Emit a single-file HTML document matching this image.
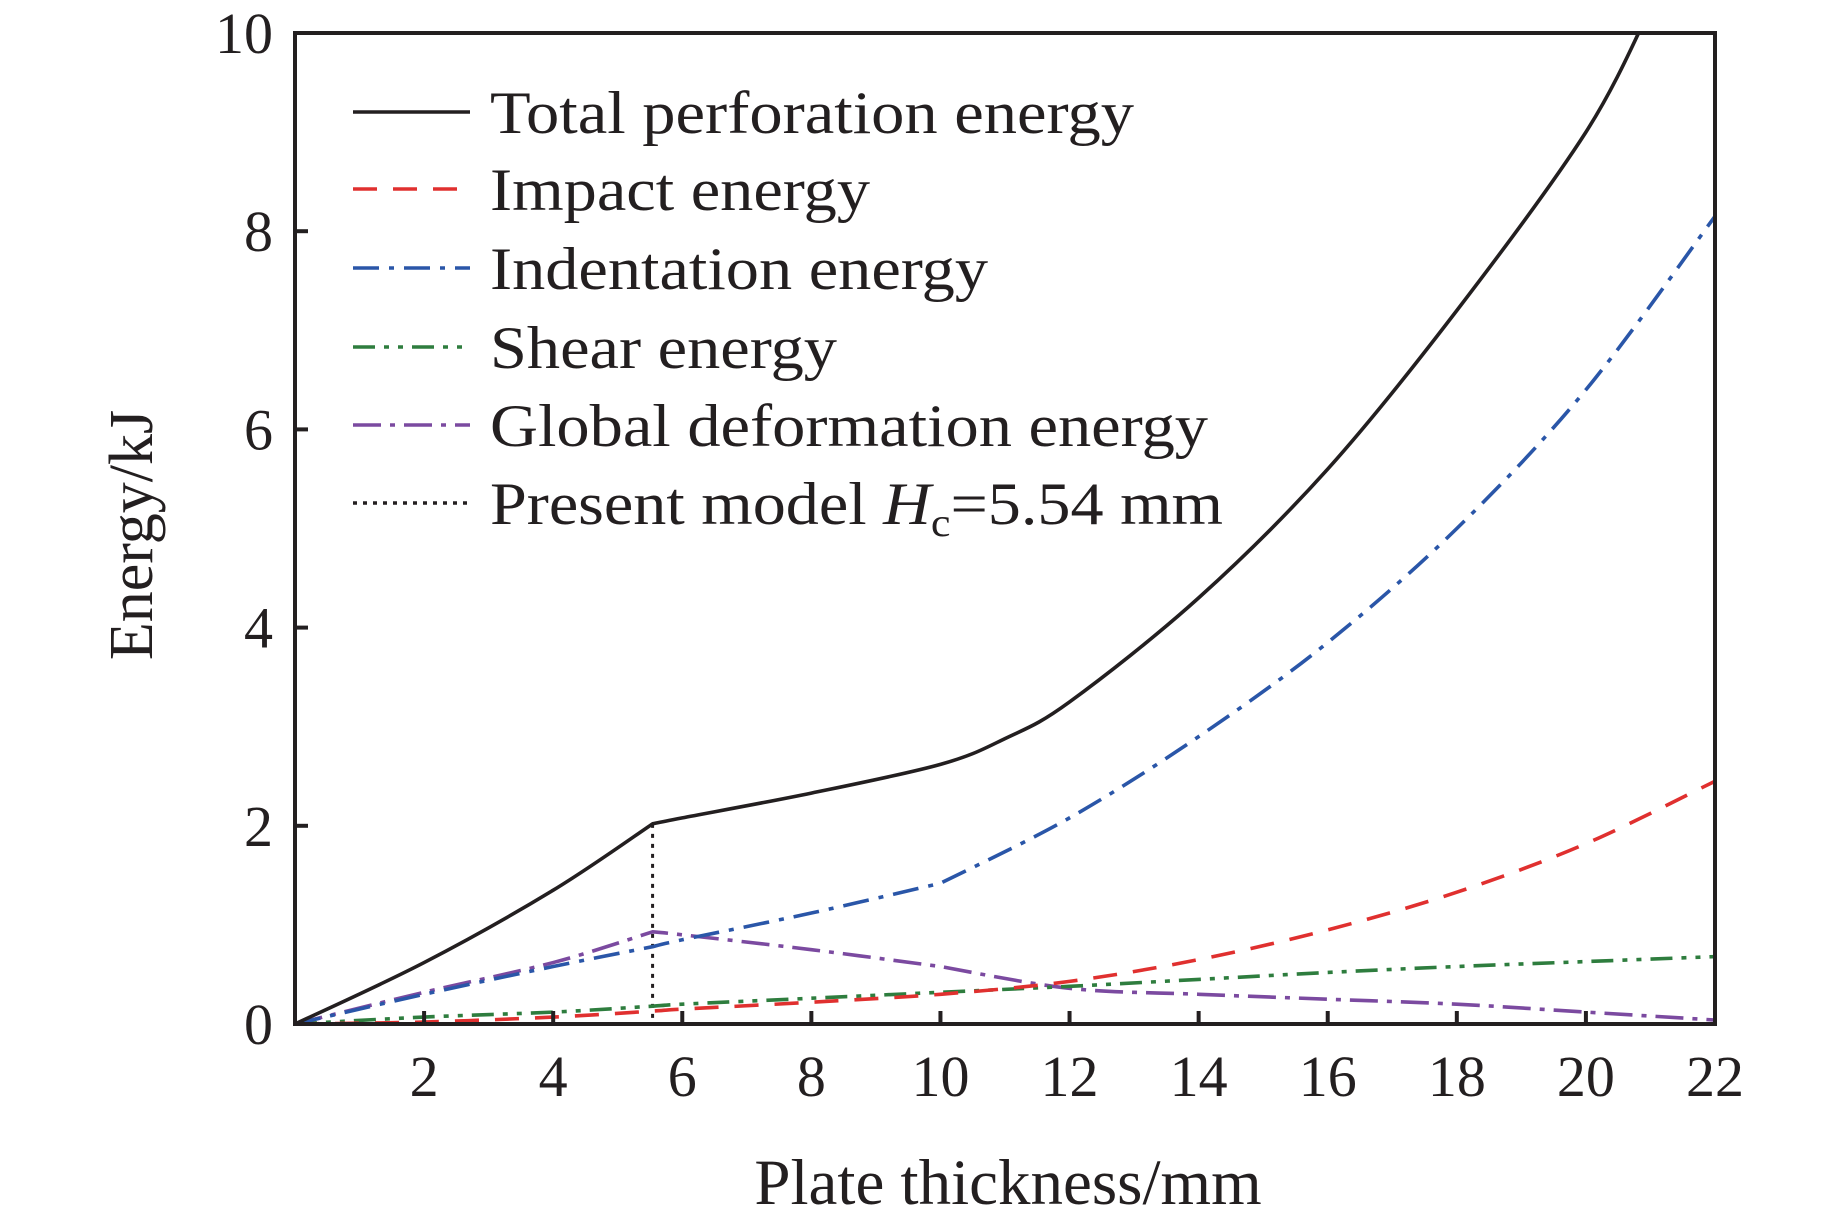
<!DOCTYPE html>
<html><head><meta charset="utf-8"><style>html,body{margin:0;padding:0;background:#fff}svg{display:block}text{font-family:"Liberation Serif",serif;fill:#231f20}</style></head>
<body>
<svg id="chart" width="1843" height="1211" viewBox="0 0 1843 1211" xmlns="http://www.w3.org/2000/svg">
<defs><clipPath id="clip"><rect x="295" y="33" width="1420" height="991"/></clipPath></defs>
<g id="series" clip-path="url(#clip)"></g>
<g id="axes"></g>
<g id="legend"></g>
</svg>
<script>
const xTicks=[2,4,6,8,10,12,14,16,18,20,22];
const yTicks=[0,2,4,6,8,10];
const totalX=[0,2,4,5.54,6,8,10,11,12,14,16,18,20,21];
const totalY=[0,0.62,1.35,2.02,2.08,2.33,2.62,2.88,3.25,4.3,5.6,7.2,9.0,10.25];
const commonX=[0,2,4,5.54,6,8,10,12,14,16,18,20,22];
const indentY=[0,0.3,0.58,0.78,0.85,1.12,1.42,2.08,2.9,3.85,5.0,6.4,8.15];
const impactY=[0,0.02,0.07,0.13,0.15,0.22,0.3,0.43,0.65,0.95,1.33,1.82,2.45];
const shearY=[0,0.07,0.12,0.18,0.2,0.26,0.32,0.38,0.45,0.52,0.58,0.63,0.68];
const globalY=[0,0.32,0.62,0.93,0.9,0.75,0.58,0.36,0.3,0.25,0.2,0.12,0.04];
const Hc=5.54;
const L=295,R=1715,T=33,B=1024;
const sx=v=>L+v/22*(R-L), sy=v=>B-v/10*(B-T);
const NS="http://www.w3.org/2000/svg";
function mk(tag,attrs,parent){const e=document.createElementNS(NS,tag);for(const k in attrs)e.setAttribute(k,attrs[k]);parent.appendChild(e);return e;}
const S=document.getElementById('series'),A=document.getElementById('axes'),G=document.getElementById('legend');
function smooth(xs,ys,kinks){
 const P=xs.map((x,i)=>[sx(x),sy(ys[i])]);
 let d="M"+P[0][0]+","+P[0][1];
 for(let i=0;i<P.length-1;i++){
  const p0=(i>0&&!kinks.includes(i))?P[i-1]:P[i],p1=P[i],p2=P[i+1],p3=(i+2<P.length&&!kinks.includes(i+1))?P[i+2]:P[i+1];
  const c1=[p1[0]+(p2[0]-p0[0])/6,p1[1]+(p2[1]-p0[1])/6],c2=[p2[0]-(p3[0]-p1[0])/6,p2[1]-(p3[1]-p1[1])/6];
  d+=` C${c1[0]},${c1[1]} ${c2[0]},${c2[1]} ${p2[0]},${p2[1]}`;
 }
 return d;
}
const series=[
 {name:'total-perforation-energy-line',xs:totalX,ys:totalY,c:'#231f20',dash:'',k:[3]},
 {name:'indentation-energy-line',xs:commonX,ys:indentY,c:'#2a56a8',dash:'26 10 5 10',k:[3,6]},
 {name:'impact-energy-line',xs:commonX,ys:impactY,c:'#e0302f',dash:'24 16',k:[]},
 {name:'shear-energy-line',xs:commonX,ys:shearY,c:'#2e7d3e',dash:'22 9 5 9 5 9',k:[]},
 {name:'global-deformation-energy-line',xs:commonX,ys:globalY,c:'#7b4aa0',dash:'28 9 5 9',k:[3,6]}
];
const vline=mk('line',{x1:sx(Hc),x2:sx(Hc),y1:sy(totalY[3]),y2:B,stroke:'#231f20','stroke-width':3,'stroke-dasharray':'4 6'},S);


for(const s of series.slice().reverse()){
 const p=mk('path',{d:smooth(s.xs,s.ys,s.k),fill:'none',stroke:s.c,'stroke-width':3.6,'stroke-dasharray':s.dash,'stroke-linejoin':'round'},S);
 
 
}
const frame=mk('rect',{x:L,y:T,width:R-L,height:B-T,fill:'none',stroke:'#231f20','stroke-width':4},A);


for(const t of xTicks){
 mk('line',{x1:sx(t),x2:sx(t),y1:B,y2:B-13,stroke:'#231f20','stroke-width':4},A);
 const tx=mk('text',{x:sx(t),y:1096,'text-anchor':'middle','font-size':58},A);tx.textContent=t;
 
 
}
for(const t of yTicks){
 mk('line',{x1:L,x2:L+13,y1:sy(t),y2:sy(t),stroke:'#231f20','stroke-width':4},A);
 const ty=mk('text',{x:273,y:sy(t)+20,'text-anchor':'end','font-size':58},A);ty.textContent=t;
 
 
}
const xt=mk('text',{x:1008,y:1204,'text-anchor':'middle','font-size':65},A);xt.textContent='Plate thickness/mm';


const yt=mk('text',{x:0,y:0,'text-anchor':'middle','font-size':62,transform:'translate(152,535) rotate(-90)'},A);yt.textContent='Energy/kJ';


const leg=[
 ['legend-total','Total perforation energy','#231f20','',644],
 ['legend-impact','Impact energy','#e0302f','24 16',380],
 ['legend-indentation','Indentation energy','#2a56a8','26 10 5 10',498],
 ['legend-shear','Shear energy','#2e7d3e','22 9 5 9 5 9',347],
 ['legend-global','Global deformation energy','#7b4aa0','28 9 5 9',718],
 ['legend-present-model','','#231f20','4 6',733]
];
const rows=[112,189,268,347,425,503];
leg.forEach((l,i)=>{
 const g=mk('g',{},G);
 
 
 mk('line',{x1:353,x2:470,y1:rows[i],y2:rows[i],stroke:l[2],'stroke-width':3.6,'stroke-dasharray':l[3]},g);
 const t=mk('text',{x:490,y:rows[i]+21,'font-size':60,textLength:l[4],lengthAdjust:'spacingAndGlyphs'},g);
 if(l[1]){t.textContent=l[1];}
 else{t.innerHTML='Present model <tspan font-style="italic">H</tspan><tspan font-size="40" dy="12">c</tspan><tspan dy="-12">=5.54 mm</tspan>';}
});
</script>
</body></html>
